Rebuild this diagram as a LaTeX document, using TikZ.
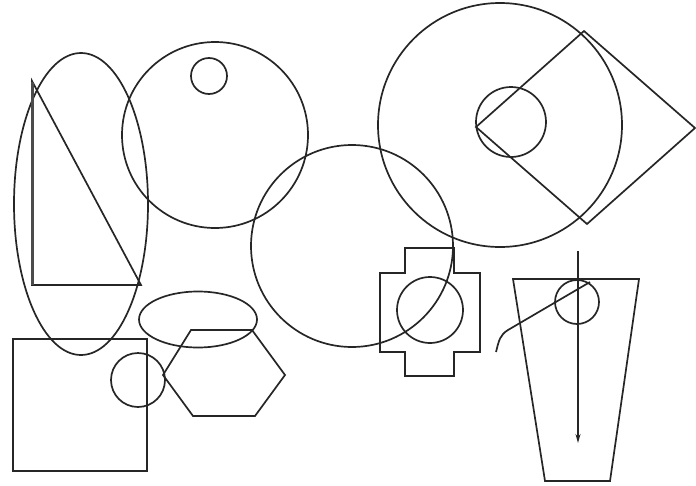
\documentclass[tikz,border=0pt]{standalone}
\usetikzlibrary{arrows.meta}
\begin{document}
\begin{tikzpicture}[x=1pt,y=-1pt,
  shp/.style={draw=black!85,line width=1.7pt,line join=miter},
  thickedge/.style={draw=black!70,line width=3pt}]
\useasboundingbox (0,0) rectangle (696,485);
% left tall ellipse and triangle
\draw[shp] (81,204) ellipse [x radius=67pt,y radius=151pt];
\draw[shp] (32,81) -- (141,285) -- (32,285) -- cycle;
\draw[thickedge] (32,82) -- (32,285);
% top-middle circle with small circle
\draw[shp] (215,135) circle (93pt);
\draw[shp] (209,76) circle (18pt);
% middle big circle
\draw[shp] (352,246) circle (101pt);
% top-right circle, inner circle, rotated square
\draw[shp] (500,125) circle (122pt);
\draw[shp] (511,122) circle (35pt);
\draw[shp] (476,127) -- (584,31) -- (695,128) -- (587,224) -- cycle;
% cross shape with circle
\draw[shp] (405,248) -- (454,248) -- (454,273) -- (480,273) -- (480,352) -- (454,352)
  -- (454,376) -- (405,376) -- (405,352) -- (380,352) -- (380,273) -- (405,273) -- cycle;
\draw[shp] (430,310) circle (33pt);
% trapezoid, small circle, arrow, curve
\draw[shp] (513,279) -- (639,279) -- (610,481) -- (545,481) -- cycle;
\draw[shp] (577,302) circle (22pt);
\coordinate (arS) at (578,251);
\coordinate (arE) at (578,443);
\draw[shp,-{Stealth[length=9pt,width=5pt]}] (arS) -- (arE);
\coordinate (cvS) at (496,352);
\coordinate (cvK) at (508,330);
\coordinate (cvE) at (590,282);
\draw[shp] (cvS) .. controls (499,340) and (500,335) .. (cvK) -- (cvE);
% bottom-left square, small circle, flat ellipse, hexagon
\draw[shp] (13,339) rectangle (147,471);
\draw[shp] (138,380) circle (27pt);
\draw[shp] (198,319.5) ellipse [x radius=59pt,y radius=28pt];
\draw[shp] (191,330) -- (252,330) -- (285,375) -- (255,416) -- (193,416) -- (163,375) -- cycle;
\end{tikzpicture}
\end{document}
